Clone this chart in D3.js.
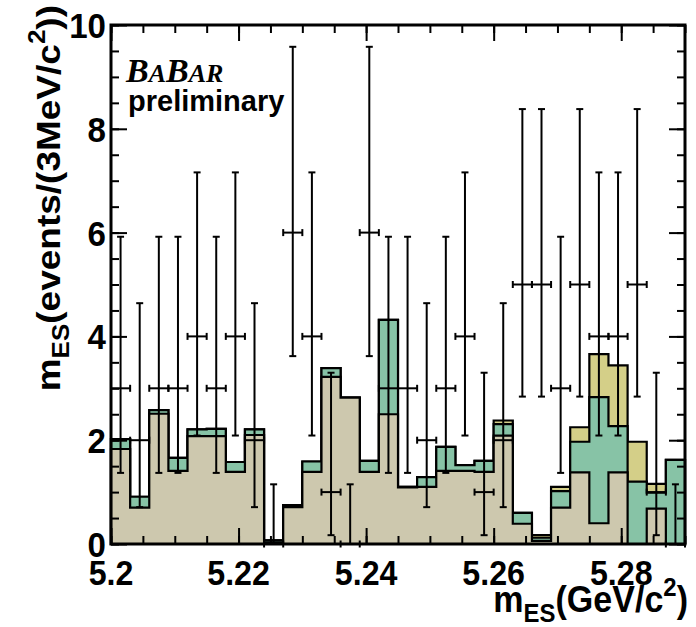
<!DOCTYPE html>
<html>
<head>
<meta charset="utf-8">
<script src="https://cdn.jsdelivr.net/npm/d3@7"></script>
<style>
  html, body { margin: 0; padding: 0; background: #fff; }
  svg { display: block; }
</style>
</head>
<body>
<svg id="chart" width="696" height="627"></svg>
<script>
// ---- data -------------------------------------------------------------
// lower edge of each 3 MeV bin (GeV/c^2)
const binStart = [5.200, 5.203, 5.206, 5.209, 5.212, 5.215, 5.218, 5.221, 5.224, 5.227,
                  5.230, 5.233, 5.236, 5.239, 5.242, 5.245, 5.248, 5.251, 5.254, 5.257,
                  5.260, 5.263, 5.266, 5.269, 5.272, 5.275, 5.278, 5.281, 5.284, 5.287];
const binWidth = 0.003;

// stacked fit components (events per bin)
const combinatoric = [1.83, 0.70, 2.51, 1.41, 2.08, 2.08, 1.39, 2.10, 0.03, 0.71,
                      1.39, 3.22, 2.82, 1.39, 2.50, 1.09, 1.10, 1.41, 1.41, 1.39,
                      2.09, 0.39, 0.06, 0.70, 1.38, 0.40, 1.38, 0.00, 0.68, 0.00];
const peaking      = [0.19, 0.21, 0.07, 0.25, 0.13, 0.14, 0.19, 0.11, 0.04, 0.04,
                      0.20, 0.17, 0.00, 0.21, 1.82, 0.01, 0.19, 0.46, 0.11, 0.21,
                      0.22, 0.21, 0.06, 0.32, 0.59, 2.43, 0.89, 1.20, 0.31, 1.62];
const signal       = [0.00, 0.00, 0.00, 0.00, 0.00, 0.00, 0.00, 0.00, 0.00, 0.00,
                      0.00, 0.00, 0.00, 0.00, 0.00, 0.00, 0.00, 0.00, 0.00, 0.00,
                      0.07, 0.00, 0.05, 0.08, 0.28, 0.83, 1.17, 0.77, 0.17, 0.00];

// observed events with their asymmetric Poisson intervals
const counts = [3, 2, 3, 3, 4, 3, 4, 2, 0, 6,
                4, 1, 0, 6, 3, 3, 2, 3, 4, 1,
                2, 5, 5, 3, 5, 4, 4, 5, 1, 0];
const errLo  = [1.37, 0.71, 1.37, 1.37, 2.09, 1.37, 2.09, 0.71, 0.00, 3.62,
                2.09, 0.17, 0.00, 3.62, 1.37, 1.37, 0.71, 1.37, 2.09, 0.17,
                0.71, 2.84, 2.84, 1.37, 2.84, 2.09, 2.09, 2.84, 0.17, 0.00];
const errHi  = [5.92, 4.64, 5.92, 5.92, 7.16, 5.92, 7.16, 4.64, 1.15, 9.58,
                7.16, 3.30, 1.15, 9.58, 5.92, 5.92, 4.64, 5.92, 7.16, 3.30,
                4.64, 8.38, 8.38, 5.92, 8.38, 7.16, 7.16, 8.38, 3.30, 1.15];

const xMajorTicks = [5.20, 5.22, 5.24, 5.26, 5.28];
const xTickLabels = ["5.2", "5.22", "5.24", "5.26", "5.28"];
const yMajorTicks = [0, 2, 4, 6, 8, 10];
const yTickLabels = ["0", "2", "4", "6", "8", "10"];

const layerKeys   = ["combinatoric", "peaking", "signal"];
const layerColors = { combinatoric: "#cdc8ae", peaking: "#87c3a6", signal: "#d4cf88" };

// ---- layout -------------------------------------------------------------
const svg = d3.select("#chart");
const frame = { left: 111, right: 685, top: 25, bottom: 544 };
const x = d3.scaleLinear().domain([5.2, 5.29]).range([frame.left, frame.right]);
const y = d3.scaleLinear().domain([0, 10]).range([frame.bottom, frame.top]);
const FONT = "'Liberation Sans', Arial, Helvetica, sans-serif";
const SQUEEZE = 0.92;

svg.append("rect").attr("width", 696).attr("height", 627).attr("fill", "#fff");

// ---- stacked histograms ---------------------------------------------------
const table = binStart.map((s, i) => ({
  start: s, combinatoric: combinatoric[i], peaking: peaking[i], signal: signal[i]
}));
const stacked = d3.stack().keys(layerKeys)(table);

function stepOutline(layer) {
  const pts = [[x(binStart[0]), y(0)]];
  layer.forEach((d, i) => {
    const x0 = x(binStart[i]), x1 = x(binStart[i] + binWidth);
    pts.push([x0, y(d[1])], [x1, y(d[1])]);
  });
  pts.push([x(binStart[binStart.length - 1] + binWidth), y(0)]);
  return d3.line()(pts) + "Z";
}

// draw the full stack first, then each lower sum over it
const histG = svg.append("g");
stacked.slice().reverse().forEach(layer => {
  histG.append("path")
    .attr("d", stepOutline(layer))
    .attr("fill", layerColors[layer.key])
    .attr("stroke", "#000")
    .attr("stroke-width", 2.2)
    .attr("stroke-linejoin", "miter");
});

// ---- axes ticks (all pointing inward) -----------------------------------
const xMinor = d3.range(5.2, 5.2901, 0.005).map(v => +v.toFixed(3));
const yMinor = d3.range(0, 10.001, 0.5);

function axisTicks(axisGen, tickVals, size, transform) {
  svg.append("g")
    .attr("transform", transform)
    .call(axisGen.tickValues(tickVals).tickSize(-size).tickFormat(""))
    .call(g => g.select(".domain").remove())
    .call(g => g.selectAll(".tick line").attr("stroke", "#000").attr("stroke-width", 2));
}
axisTicks(d3.axisBottom(x), xMinor, 8,  `translate(0,${frame.bottom})`);
axisTicks(d3.axisBottom(x), xMajorTicks, 16, `translate(0,${frame.bottom})`);
axisTicks(d3.axisTop(x),    xMinor, 8,  `translate(0,${frame.top})`);
axisTicks(d3.axisTop(x),    xMajorTicks, 16, `translate(0,${frame.top})`);
axisTicks(d3.axisLeft(y),   yMinor, 8,  `translate(${frame.left},0)`);
axisTicks(d3.axisLeft(y),   yMajorTicks, 16, `translate(${frame.left},0)`);
axisTicks(d3.axisRight(y),  yMinor, 8,  `translate(${frame.right},0)`);
axisTicks(d3.axisRight(y),  yMajorTicks, 16, `translate(${frame.right},0)`);

// ---- data points with error bars ---------------------------------------
const cap = 3.5;
const ptsG = svg.append("g").attr("stroke", "#000").attr("stroke-width", 2).attr("fill", "none");
counts.forEach((n, i) => {
  const xc = x(binStart[i] + binWidth / 2);
  const xl = x(binStart[i]), xr = x(binStart[i] + binWidth);
  const yn = y(n), ylo = y(errLo[i]), yhi = y(errHi[i]);
  // vertical error
  ptsG.append("line").attr("x1", xc).attr("x2", xc).attr("y1", ylo).attr("y2", yhi);
  ptsG.append("line").attr("x1", xc - cap).attr("x2", xc + cap).attr("y1", yhi).attr("y2", yhi);
  ptsG.append("line").attr("x1", xc - cap).attr("x2", xc + cap).attr("y1", ylo).attr("y2", ylo);
  // horizontal bin width
  ptsG.append("line").attr("x1", xl).attr("x2", xr).attr("y1", yn).attr("y2", yn);
  ptsG.append("line").attr("x1", xl).attr("x2", xl).attr("y1", yn - cap).attr("y2", yn + cap);
  ptsG.append("line").attr("x1", xr).attr("x2", xr).attr("y1", yn - cap).attr("y2", yn + cap);
});

// ---- frame ----------------------------------------------------------------
svg.append("rect")
  .attr("x", frame.left).attr("y", frame.top)
  .attr("width", frame.right - frame.left).attr("height", frame.bottom - frame.top)
  .attr("fill", "none").attr("stroke", "#000").attr("stroke-width", 3);

// ---- tick labels ----------------------------------------------------------
svg.append("g").selectAll("text").data(xMajorTicks).join("text")
  .attr("transform", d => `translate(${x(d)},585) scale(${SQUEEZE},1)`)
  .attr("text-anchor", "middle")
  .attr("font-family", FONT).attr("font-weight", "bold").attr("font-size", 35)
  .text((d, i) => xTickLabels[i]);

svg.append("g").selectAll("text").data(yMajorTicks).join("text")
  .attr("transform", d => `translate(106,${y(d)}) scale(${SQUEEZE},1)`)
  .attr("text-anchor", "end").attr("dy", "0.36em")
  .attr("font-family", FONT).attr("font-weight", "bold").attr("font-size", 36)
  .text((d, i) => yTickLabels[i]);

// ---- axis titles ------------------------------------------------------------
const xt = svg.append("text")
  .attr("transform", `translate(688,612) scale(${SQUEEZE},1)`)
  .attr("text-anchor", "end")
  .attr("font-family", FONT).attr("font-weight", "bold").attr("font-size", 37);
xt.append("tspan").text("m");
xt.append("tspan").attr("font-size", 26).attr("dy", 10).text("ES");
xt.append("tspan").attr("dy", -10).text("(GeV/c");
xt.append("tspan").attr("font-size", 26).attr("dy", -16).text("2");
xt.append("tspan").attr("dy", 16).text(")");

const yt = svg.append("text")
  .attr("transform", `translate(60,5) scale(${SQUEEZE},1) rotate(-90)`)
  .attr("text-anchor", "end")
  .attr("font-family", FONT).attr("font-weight", "bold").attr("font-size", 37);
yt.append("tspan").text("m");
yt.append("tspan").attr("font-size", 26).attr("dy", 10).text("ES");
yt.append("tspan").attr("dy", -10).text("(events/(3MeV/c");
yt.append("tspan").attr("font-size", 26).attr("dy", -16).text("2");
yt.append("tspan").attr("dy", 16).text("))");

// ---- experiment label -------------------------------------------------------
const logo = svg.append("text")
  .attr("x", 126).attr("y", 82)
  .attr("font-family", "'Liberation Serif', 'Times New Roman', serif")
  .attr("font-style", "italic").attr("font-weight", "bold");
[["B", 34], ["A", 26], ["B", 34], ["AR", 26]].forEach(([t, s]) => {
  logo.append("tspan").attr("font-size", s).text(t);
});
svg.append("text")
  .attr("x", 128).attr("y", 111)
  .attr("font-family", FONT).attr("font-weight", "bold").attr("font-size", 29)
  .text("preliminary");
</script>
</body>
</html>
